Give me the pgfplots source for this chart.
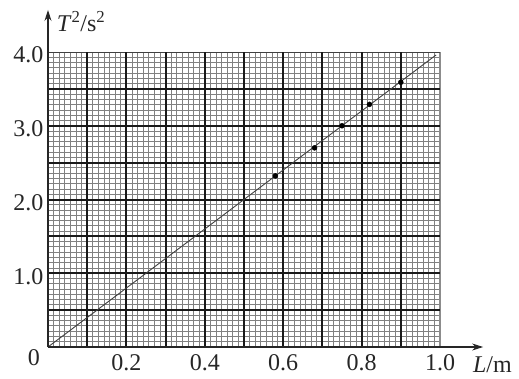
\documentclass[border=0pt]{standalone}
\usepackage{fontspec}
\setmainfont{Liberation Serif}
\usepackage{pgfplots}
\pgfplotsset{compat=1.18}
\usetikzlibrary{arrows.meta}
\begin{document}
\begin{tikzpicture}
\begin{axis}[
  scale only axis, width=392pt, height=295pt,
  xmin=0, xmax=1.0, ymin=0, ymax=4.0,
  clip=false,
  axis line style={draw=none},
  major tick length=0pt, minor tick length=0pt,
  xtick={0.2,0.4,0.6,0.8,1.0},
  xticklabels={0.2,0.4,0.6,0.8,1.0},
  ytick={1,2,3,4},
  yticklabels={1.0,2.0,3.0,4.0},
  tick label style={font=\fontsize{24}{26}\selectfont, text=black!85},
  xticklabel style={yshift=-4pt},
  yticklabel style={xshift=-1pt, yshift=-3pt},
]
% minor grid
\pgfplotsinvokeforeach{1,...,69}{
  \draw[black!50, line width=0.9pt] (axis cs:{#1/70},0) -- (axis cs:{#1/70},4);
}
\pgfplotsinvokeforeach{1,...,55}{
  \draw[black!50, line width=0.9pt] (axis cs:0,{#1/14}) -- (axis cs:1,{#1/14});
}
% edge lines
\draw[black!45, line width=1.2pt] (axis cs:1,0) -- (axis cs:1,4);
\draw[black!75, line width=1pt] (axis cs:0,4) -- (axis cs:1,4);
% major grid
\pgfplotsinvokeforeach{1,...,9}{
  \draw[black!90, line width=2pt] (axis cs:{#1/10},0) -- (axis cs:{#1/10},4);
}
\pgfplotsinvokeforeach{1,...,7}{
  \draw[black!90, line width=2pt] (axis cs:0,{#1/2}) -- (axis cs:1,{#1/2});
}
% data
\addplot[black!75, line width=0.9pt, no marks] coordinates {(0,0) (0.99,3.96)};
\addplot[only marks, mark=*, mark size=2.5pt, black] coordinates {
  (0.58,2.32) (0.68,2.70) (0.75,3.00) (0.82,3.29) (0.90,3.59)};
% axes
\draw[black!85, line width=1.1pt, -{Stealth[length=11pt,width=7pt]}] (axis cs:0,0) -- (axis cs:1.11,0);
\draw[black!85, line width=1.1pt, -{Stealth[length=11pt,width=7pt]}] (axis cs:0,0) -- (axis cs:0,4.57);
\node[font=\fontsize{24}{26}\selectfont, text=black!85] at (axis cs:-0.036,-0.15) {0};
\node[anchor=base west, font=\fontsize{24}{26}\selectfont, text=black!85, inner sep=0pt] at (axis cs:0.022,4.28) {\textit{T}\textsuperscript{2}/s\textsuperscript{2}};
\node[anchor=base west, font=\fontsize{24}{26}\selectfont, text=black!85, inner sep=0pt] at (axis cs:1.084,-0.35) {\textit{L}/m};
\end{axis}
\pgfresetboundingbox
\path[use as bounding box] (-48pt,-31pt) rectangle (471pt,347pt);
\end{tikzpicture}
\end{document}
